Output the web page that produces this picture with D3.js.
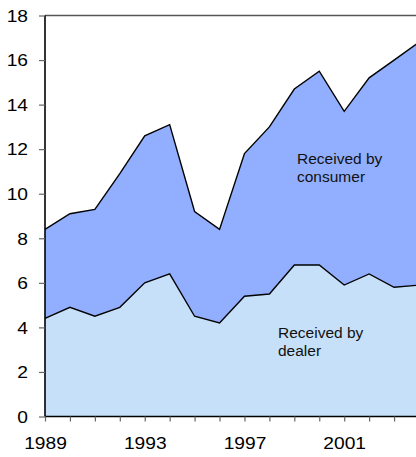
<!DOCTYPE html>
<html><head><meta charset="utf-8">
<script src="https://cdn.jsdelivr.net/npm/d3@7"></script>
<style>html,body{margin:0;padding:0;background:#fff;overflow:hidden}svg{display:block;font-family:Arial,"Liberation Sans",sans-serif}</style>
</head><body>
<svg id="c" width="416" height="457"></svg>
<script>
const years = [1989,1990,1991,1992,1993,1994,1995,1996,1997,1998,1999,2000,2001,2002,2003,2004];
const dealer = [4.4,4.9,4.5,4.9,6.0,6.4,4.5,4.2,5.4,5.5,6.8,6.8,5.9,6.4,5.8,5.9];
const consumer = [4.0,4.2,4.8,6.0,6.6,6.7,4.7,4.2,6.4,7.5,7.9,8.7,7.8,8.8,10.2,10.9];
const xTickLabels = [1989,1993,1997,2001];
const yTicks = [0,2,4,6,8,10,12,14,16,18];
const labels = [["Received by","consumer"],["Received by","dealer"]];

const svg = d3.select("#c");
const x = d3.scaleLinear().domain([1989,2004]).range([45,419]);
const y = d3.scaleLinear().domain([0,18]).range([416.5,15.5]);

const rows = years.map((yr,i)=>({year:yr, dealer:dealer[i], consumer:consumer[i]}));
const stack = d3.stack().keys(["dealer","consumer"])(rows);
const fills = ["#c6e0fa","#91affe"];

const area = d3.area().x(d=>x(d.data.year)).y0(d=>y(d[0])).y1(d=>y(d[1]));
const line = d3.line().x(d=>x(d.data.year)).y(d=>y(d[1]));

[1,0].forEach(k=>{
  svg.append("path").attr("d",area(stack[k])).attr("fill",fills[k]);
});
[1,0].forEach(k=>{
  svg.append("path").attr("d",line(stack[k])).attr("fill","none").attr("stroke","#000").attr("stroke-width",1.4).attr("stroke-linejoin","miter");
});

svg.append("line").attr("x1",45).attr("x2",416).attr("y1",y(18)).attr("y2",y(18)).attr("stroke","#555").attr("stroke-width",1.3);

const ya = svg.append("g").attr("transform","translate(45,0)")
  .call(d3.axisLeft(y).tickValues(yTicks).tickSize(6).tickPadding(0).tickFormat(d3.format("d")));
ya.select(".domain").attr("stroke","#000").attr("stroke-width",1.6).attr("d","M0,"+y(18)+"V"+y(0));
ya.selectAll(".tick line").attr("stroke","#666").attr("stroke-width",1.2);
ya.selectAll(".tick text").attr("x",0).attr("dy","0.36em").attr("font-size",16).attr("fill","#000")
  .attr("font-family","Arial, 'Liberation Sans', sans-serif")
  .attr("transform","translate(-17,0) scale(1.2,1)");

const xa = svg.append("g").attr("transform","translate(0,"+y(0)+")")
  .call(d3.axisBottom(x).tickValues(years).tickSize(5).tickPadding(0)
    .tickFormat(d=>xTickLabels.includes(d)?String(d):""));
xa.select(".domain").attr("stroke","#000").attr("stroke-width",1.4).attr("d","M45,0H419");
xa.selectAll(".tick line").attr("stroke","#666").attr("stroke-width",1.2);
xa.selectAll(".tick text").attr("y",0).attr("dy",0).attr("font-size",16).attr("fill","#000")
  .attr("font-family","Arial, 'Liberation Sans', sans-serif")
  .attr("transform","translate(0,32.5) scale(1.2,1)");

const ann = [{x:297,y:163.5,t:labels[0]},{x:278,y:338,t:labels[1]}];
ann.forEach(a=>{
  const t = svg.append("text").attr("x",a.x).attr("y",a.y).attr("font-size",15.5).attr("fill","#111");
  a.t.forEach((s,i)=>t.append("tspan").attr("x",a.x).attr("dy",i?18.3:0).text(s));
});
</script>
</body></html>
